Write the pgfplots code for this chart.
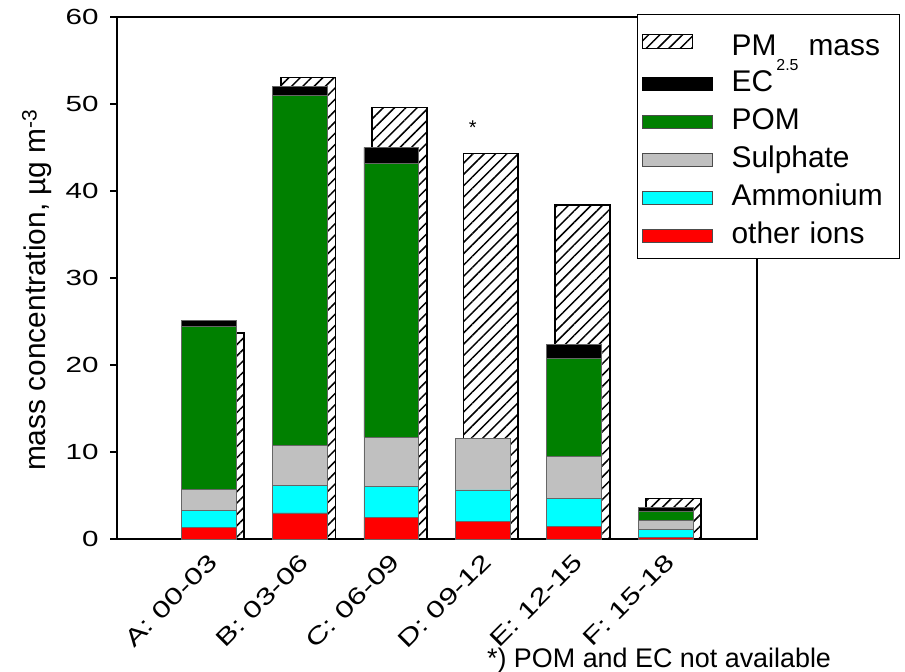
\documentclass[border=0pt]{standalone}
\usepackage{fontspec}
\setmainfont{Liberation Sans}
\newfontfamily\widefont[FakeStretch=1.35]{Liberation Sans}
\usepackage{pgfplots}
\pgfplotsset{compat=1.18}
\usetikzlibrary{patterns.meta}
\definecolor{pomgreen}{RGB}{0,128,0}
\definecolor{sulgray}{RGB}{192,192,192}
\definecolor{ammcyan}{RGB}{0,255,255}
\definecolor{othred}{RGB}{255,0,0}
\pgfplotsset{
  wideleg/.style={legend image code/.code={\draw[##1] (0bp,-6.5bp) rectangle (70bp,6.5bp);}},
  pmleg/.style={legend image code/.code={\draw[##1] (0bp,-7bp) rectangle (50bp,7bp);}},
  common/.style={width=640bp,height=522bp,scale only axis,at={(117bp,133bp)},anchor=south west,
    xmin=-1,xmax=6,ymin=0,ymax=60},
}
\begin{document}
\begin{tikzpicture}
\useasboundingbox (0,0) rectangle (905bp,672bp);
% PM2.5 mass (hatched, behind)
\begin{axis}[common, hide axis, ybar, bar width=0.6]
\addplot[draw=black, line width=1.8bp, pattern={Lines[angle=45,distance=8bp,line width=1.5bp]}, bar shift=0]
  coordinates {(0.09,23.7)(1.09,53.05)(2.09,49.6)(3.09,44.3)(4.09,38.4)(5.09,4.66)};
\end{axis}
% stacked components
\begin{axis}[common, ybar stacked, bar width=0.6, clip=false,
  axis line style={line width=1.3bp},
  xtick={0,1,2,3,4,5},
  xticklabels={A: 00-03, B: 03-06, C: 06-09, D: 09-12, E: 12-15, F: 15-18},
  xtick style={draw=none},
  ytick={0,10,...,60}, ytick pos=left, tick align=outside, major tick length=7bp,
  ytick style={line width=1.3bp, black},
  /pgf/number format/assume math mode=true,
  yticklabel style={font=\widefont\fontsize{22}{22}\selectfont, xshift=-8bp},
  xticklabel style={font=\widefont\fontsize{23.5}{23.5}\selectfont, rotate=45, anchor=north east, xshift=-2bp},
  ylabel={mass concentration, µg m\textsuperscript{-3}},
  ylabel style={font=\fontsize{30}{30}\selectfont, at={(rel axis cs:-0.125,0.477)}, anchor=center},
  legend cell align=left,
  legend style={at={(0.8125,1.006)}, anchor=north west, draw=black, line width=1bp, fill=white,
    font=\fontsize{30}{33}\selectfont, row sep=7bp, inner xsep=4bp, inner ysep=7bp,
    nodes={text height=21bp, text depth=6bp, inner sep=2bp, text width=162bp, align=left},
    /tikz/every odd column/.append style={column sep=17bp}},
]
\addlegendimage{pmleg, draw=black, line width=1.5bp, pattern={Lines[angle=45,distance=8bp,line width=1.5bp]}}
\addlegendentry[text height=32bp, text depth=4bp]{PM\raisebox{-15bp}{\fontsize{16}{16}\selectfont 2.5} mass}
\addlegendimage{wideleg, fill=black, draw=black, line width=0.7bp}
\addlegendentry{EC}
\addlegendimage{wideleg, fill=pomgreen, draw=black!70, line width=0.7bp}
\addlegendentry{POM}
\addlegendimage{wideleg, fill=sulgray, draw=black!70, line width=0.7bp}
\addlegendentry{Sulphate}
\addlegendimage{wideleg, fill=ammcyan, draw=black!70, line width=0.7bp}
\addlegendentry{Ammonium}
\addlegendimage{wideleg, fill=othred, draw=black!70, line width=0.7bp}
\addlegendentry{other ions}
% other ions
\addplot[fill=othred, draw=black!60, line width=0.6bp]
  coordinates {(0,1.37)(1,3.0)(2,2.52)(3,1.98)(4,1.49)(5,0.15)};
% ammonium
\addplot[fill=ammcyan, draw=black!60, line width=0.6bp]
  coordinates {(0,1.91)(1,3.18)(2,3.51)(3,3.66)(4,3.2)(5,0.95)};
% sulphate
\addplot[fill=sulgray, draw=black!60, line width=0.6bp]
  coordinates {(0,2.44)(1,4.62)(2,5.64)(3,5.96)(4,4.81)(5,1.07)};
% POM
\addplot[fill=pomgreen, draw=black!60, line width=0.6bp]
  coordinates {(0,18.68)(1,40.15)(2,31.53)(3,0)(4,11.3)(5,1.07)};
% EC
\addplot[fill=black, draw=black!60, line width=0.6bp]
  coordinates {(0,0.7)(1,1.05)(2,1.8)(3,0)(4,1.6)(5,0.39)};
\node[font=\fontsize{20}{20}\selectfont] at (axis cs:2.89,47.3) {*};
\node[anchor=base west, inner sep=0pt, font=\fontsize{27}{27}\selectfont] at (rel axis cs:0.578,-0.2471) {*) POM and EC not available};
\end{axis}
\end{tikzpicture}
\end{document}
